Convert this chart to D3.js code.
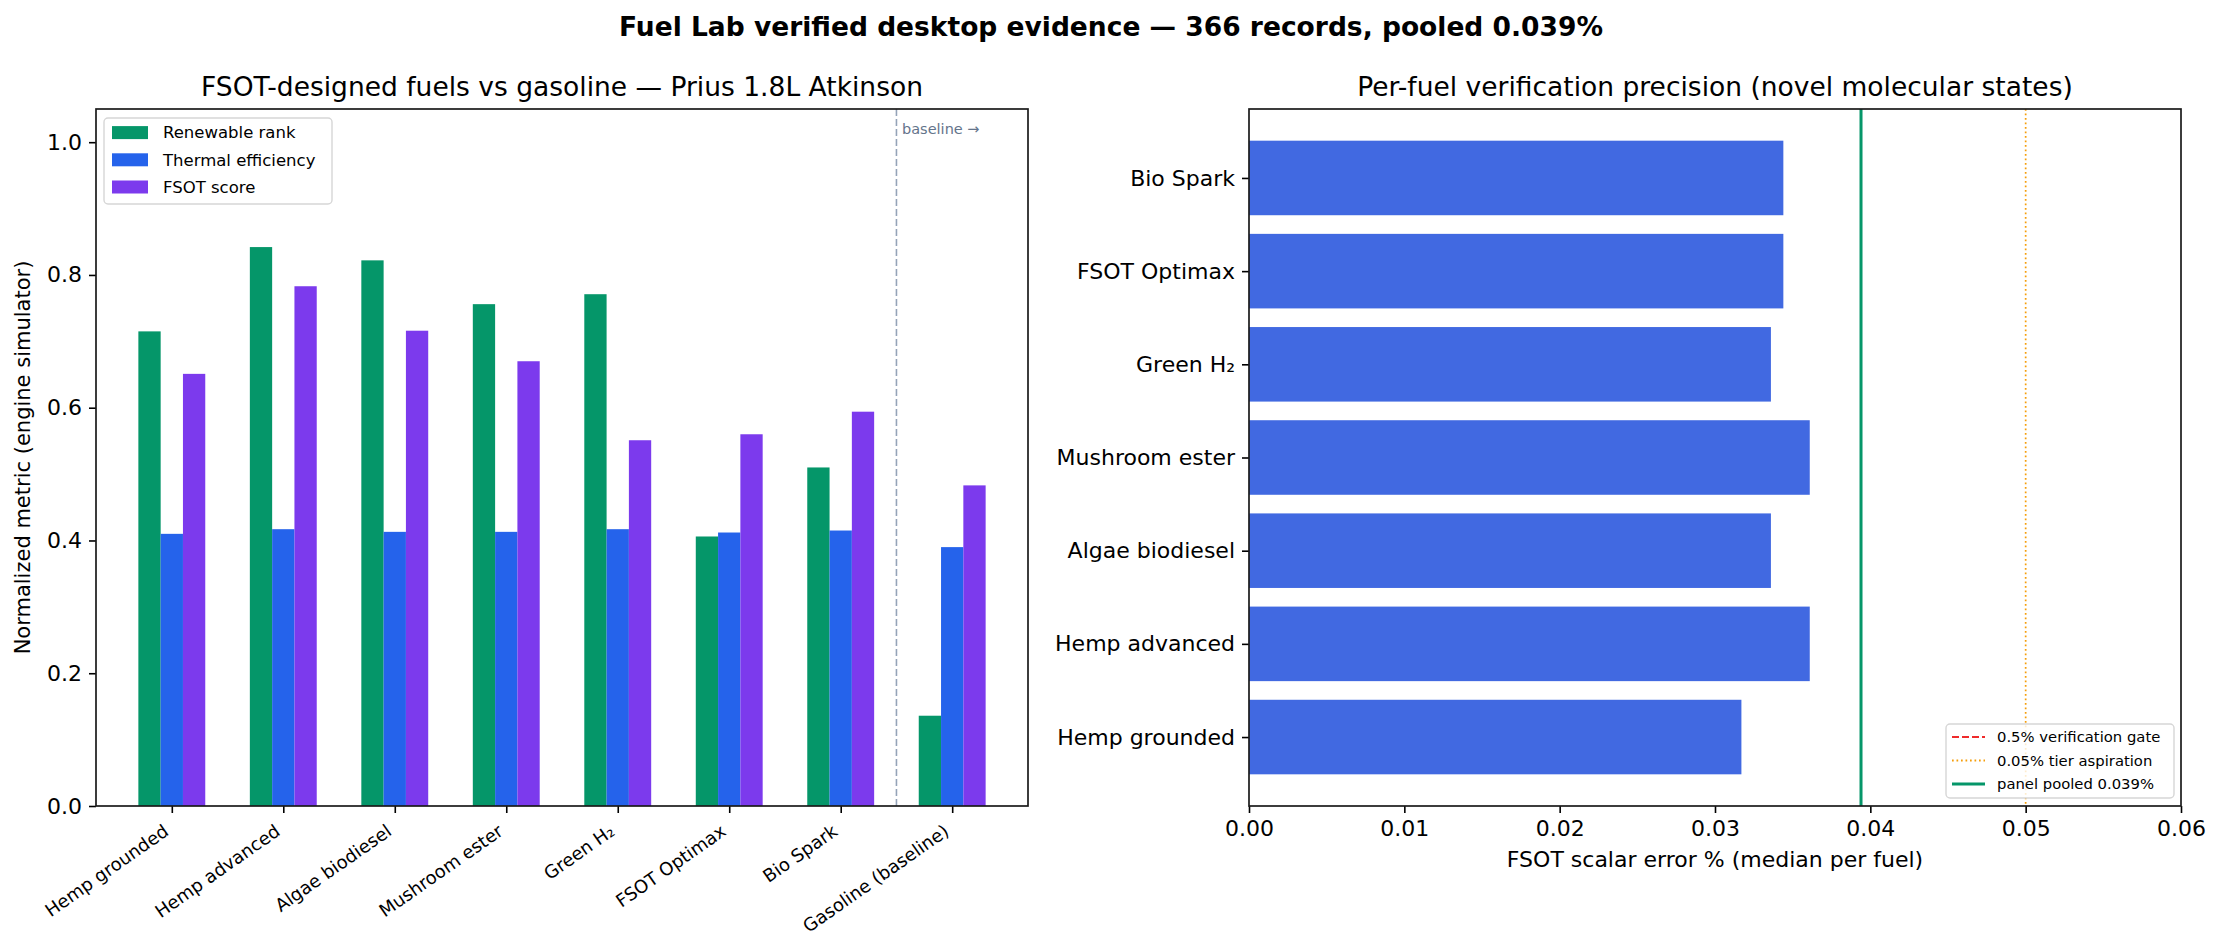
<!DOCTYPE html>
<html>
<head>
<meta charset="utf-8">
<script src="https://cdn.jsdelivr.net/npm/d3@7"></script>
<style>
  body { margin: 0; background: #fff; }
  svg { font-family: "DejaVu Sans", sans-serif; }
</style>
</head>
<body>
<div id="chart"></div>
<script>
// data
var fuels = ["Hemp grounded", "Hemp advanced", "Algae biodiesel", "Mushroom ester", "Green H\u2082", "FSOT Optimax", "Bio Spark", "Gasoline (baseline)"];
var renewableRank = [0.715, 0.842, 0.822, 0.756, 0.771, 0.406, 0.510, 0.136];
var thermalEff = [0.410, 0.417, 0.413, 0.413, 0.417, 0.412, 0.415, 0.390];
var fsotScore = [0.651, 0.783, 0.716, 0.670, 0.551, 0.560, 0.594, 0.483];
var yTicksLeft = [0, 0.2, 0.4, 0.6, 0.8, 1.0];

var novelFuels = ["Hemp grounded", "Hemp advanced", "Algae biodiesel", "Mushroom ester", "Green H\u2082", "FSOT Optimax", "Bio Spark"];
var medianErr = [0.0317, 0.0361, 0.0336, 0.0361, 0.0336, 0.0344, 0.0344];
var pooledErr = 0.0394;
var tierAspiration = 0.05;
var xTicksRight = [0, 0.01, 0.02, 0.03, 0.04, 0.05, 0.06];

var W = 2222, H = 950;
var svg = d3.select("#chart").append("svg").attr("width", W).attr("height", H);

var tickFont = 22;

// 总标题
svg.append("text").text("Fuel Lab verified desktop evidence \u2014 366 records, pooled 0.039%")
  .attr("x", W / 2).attr("y", 36).attr("text-anchor", "middle")
  .attr("font-size", 26.5).attr("font-weight", "bold").attr("fill", "#000");

// ---------- left panel ----------
var L = {x0: 96, x1: 1028, y0: 109, y1: 806};
var xL = d3.scaleLinear().domain([-0.68, 7.68]).range([L.x0, L.x1]);
var yL = d3.scaleLinear().domain([0, 1.05]).range([L.y1, L.y0]);
var bw = xL(0.2) - xL(0);

var series = [
  {name: "Renewable rank", values: renewableRank, color: "#059669", off: -0.2},
  {name: "Thermal efficiency", values: thermalEff, color: "#2563eb", off: 0},
  {name: "FSOT score", values: fsotScore, color: "#7c3aed", off: 0.2}
];

var gl = svg.append("g");
series.forEach(function (s) {
  gl.selectAll(".b").data(s.values).enter().append("rect")
    .attr("x", function (d, i) { return xL(i + s.off - 0.1); })
    .attr("y", function (d) { return yL(d); })
    .attr("width", bw)
    .attr("height", function (d) { return yL(0) - yL(d); })
    .attr("fill", s.color);
});

// baseline divider
gl.append("line").attr("x1", xL(6.5)).attr("x2", xL(6.5)).attr("y1", L.y0).attr("y2", L.y1)
  .attr("stroke", "#94a3b8").attr("stroke-width", 1.6).attr("stroke-dasharray", "7,3");
gl.append("text").text("baseline \u2192").attr("x", xL(6.55)).attr("y", yL(1.02) + 5)
  .attr("font-size", 14.5).attr("fill", "#64748b");

// y axis
var ayL = gl.append("g").attr("transform", "translate(" + L.x0 + ",0)")
  .call(d3.axisLeft(yL).tickValues(yTicksLeft).tickFormat(d3.format(".1f")).tickSize(7).tickPadding(7));
ayL.select(".domain").remove();
ayL.selectAll("text").attr("font-size", tickFont).attr("font-family", "DejaVu Sans").attr("fill", "#000");
ayL.selectAll("line").attr("stroke", "#000").attr("stroke-width", 1.6);

// x axis with rotated labels
var axL = gl.append("g").attr("transform", "translate(0," + L.y1 + ")")
  .call(d3.axisBottom(xL).tickValues(d3.range(fuels.length)).tickFormat(function (i) { return fuels[i]; }).tickSize(7));
axL.select(".domain").remove();
axL.selectAll("line").attr("stroke", "#000").attr("stroke-width", 1.6);
axL.selectAll("text").attr("font-size", 18).attr("font-family", "DejaVu Sans").attr("fill", "#000")
  .attr("text-anchor", "end").attr("dy", null).attr("y", null)
  .attr("transform", "translate(-2.4,28) rotate(-35)");

gl.append("rect").attr("x", L.x0).attr("y", L.y0).attr("width", L.x1 - L.x0).attr("height", L.y1 - L.y0)
  .attr("fill", "none").attr("stroke", "#1a1a1a").attr("stroke-width", 1.7);

gl.append("text").text("FSOT-designed fuels vs gasoline \u2014 Prius 1.8L Atkinson")
  .attr("x", (L.x0 + L.x1) / 2).attr("y", 96).attr("text-anchor", "middle").attr("font-size", 26.5);

gl.append("text").text("Normalized metric (engine simulator)")
  .attr("transform", "translate(30," + (L.y0 + L.y1) / 2 + ") rotate(-90)")
  .attr("text-anchor", "middle").attr("font-size", 21);

// legend
var lgL = gl.append("g").attr("transform", "translate(104,118)");
lgL.append("rect").attr("width", 228).attr("height", 86).attr("rx", 4)
  .attr("fill", "#fff").attr("fill-opacity", 0.8).attr("stroke", "#d6d6d6").attr("stroke-width", 1.4);
series.forEach(function (s, i) {
  lgL.append("rect").attr("x", 8).attr("y", 14.6 + i * 27.2 - 6.5).attr("width", 36).attr("height", 13).attr("fill", s.color);
  lgL.append("text").text(s.name).attr("x", 59).attr("y", 14.6 + i * 27.2).attr("dy", ".35em").attr("font-size", 16.5);
});

// ---------- right panel ----------
var R = {x0: 1249, x1: 2181, y0: 109, y1: 806};
var xR = d3.scaleLinear().domain([0, 0.06]).range([R.x0, R.x1]);
var yR = d3.scaleLinear().domain([-0.74, 6.74]).range([R.y1, R.y0]);

var gr = svg.append("g");
gr.selectAll(".hb").data(medianErr).enter().append("rect")
  .attr("x", xR(0))
  .attr("y", function (d, i) { return yR(i + 0.4); })
  .attr("width", function (d) { return xR(d) - xR(0); })
  .attr("height", yR(0) - yR(0.8))
  .attr("fill", "#4169e1");

// reference lines
gr.append("line").attr("x1", xR(tierAspiration)).attr("x2", xR(tierAspiration)).attr("y1", R.y0).attr("y2", R.y1)
  .attr("stroke", "#f59e0b").attr("stroke-width", 1.7).attr("stroke-dasharray", "1.7,2.8");
gr.append("line").attr("x1", xR(pooledErr)).attr("x2", xR(pooledErr)).attr("y1", R.y0).attr("y2", R.y1)
  .attr("stroke", "#059669").attr("stroke-width", 3);

var ayR = gr.append("g").attr("transform", "translate(" + R.x0 + ",0)")
  .call(d3.axisLeft(yR).tickValues(d3.range(novelFuels.length)).tickFormat(function (i) { return novelFuels[i]; }).tickSize(7).tickPadding(7));
ayR.select(".domain").remove();
ayR.selectAll("text").attr("font-size", tickFont).attr("font-family", "DejaVu Sans").attr("fill", "#000");
ayR.selectAll("line").attr("stroke", "#000").attr("stroke-width", 1.6);

var axR = gr.append("g").attr("transform", "translate(0," + R.y1 + ")")
  .call(d3.axisBottom(xR).tickValues(xTicksRight).tickFormat(d3.format(".2f")).tickSize(7).tickPadding(7));
axR.select(".domain").remove();
axR.selectAll("text").attr("font-size", tickFont).attr("font-family", "DejaVu Sans").attr("fill", "#000");
axR.selectAll("line").attr("stroke", "#000").attr("stroke-width", 1.6);

gr.append("rect").attr("x", R.x0).attr("y", R.y0).attr("width", R.x1 - R.x0).attr("height", R.y1 - R.y0)
  .attr("fill", "none").attr("stroke", "#1a1a1a").attr("stroke-width", 1.7);

gr.append("text").text("Per-fuel verification precision (novel molecular states)")
  .attr("x", (R.x0 + R.x1) / 2).attr("y", 96).attr("text-anchor", "middle").attr("font-size", 26.5);
gr.append("text").text("FSOT scalar error % (median per fuel)")
  .attr("x", (R.x0 + R.x1) / 2).attr("y", 867).attr("text-anchor", "middle").attr("font-size", 22);

// legend lower right
var refLines = [
  {name: "0.5% verification gate", color: "#ef2b2b", dash: "7,3", w: 2.2},
  {name: "0.05% tier aspiration", color: "#f59e0b", dash: "1.7,2.8", w: 2},
  {name: "panel pooled 0.039%", color: "#059669", dash: null, w: 3}
];
var lgR = gr.append("g").attr("transform", "translate(1946,724)");
lgR.append("rect").attr("width", 228).attr("height", 74).attr("rx", 4)
  .attr("fill", "#fff").attr("fill-opacity", 0.8).attr("stroke", "#d6d6d6").attr("stroke-width", 1.4);
refLines.forEach(function (r, i) {
  lgR.append("line").attr("x1", 6).attr("x2", 39).attr("y1", 13 + i * 23.5).attr("y2", 13 + i * 23.5)
    .attr("stroke", r.color).attr("stroke-width", r.w).attr("stroke-dasharray", r.dash);
  lgR.append("text").text(r.name).attr("x", 51).attr("y", 13 + i * 23.5).attr("dy", ".35em").attr("font-size", 14.8);
});
</script>
</body>
</html>
